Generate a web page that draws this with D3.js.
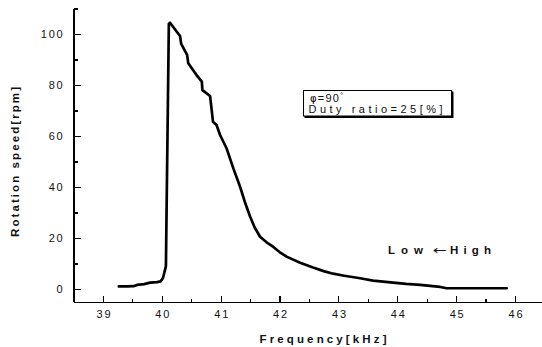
<!DOCTYPE html>
<meta charset="utf-8">
<head>
  <title>Rotation speed vs frequency</title>
</head>

<style>
body {
  margin: 0;
  background: #fff;
}
svg text {
  font-family: "Liberation Sans", Arial, sans-serif;
  fill: #111;
}
.axis path, .axis line {
  stroke: #000;
  stroke-width: 1.2;
  shape-rendering: crispEdges;
}
.axis text {
  font-size: 11px;
  letter-spacing: 1.8px;
}
.label {
  font-size: 11.5px;
  font-weight: bold;
}
</style>

<body>
  <div id="chart"></div>

  <script src="https://cdnjs.cloudflare.com/ajax/libs/d3/7.8.5/d3.min.js"></script>
  <script>
  // Measured curve: frequency in kHz, speed in rpm
  var freq = [39.27, 39.40, 39.52, 39.58, 39.70, 39.80, 39.92, 39.98, 40.02, 40.06,
              40.07, 40.12, 40.14, 40.31, 40.33, 40.43, 40.45, 40.59, 40.68, 40.69,
              40.82, 40.87, 40.93, 40.99, 41.10, 41.22, 41.33, 41.42, 41.50, 41.58,
              41.67, 41.78, 41.89, 42.00, 42.12, 42.35, 42.57, 42.75, 42.91, 43.10,
              43.37, 43.59, 43.93, 44.15, 44.39, 44.60, 44.73, 44.84, 45.86];
  var speed = [1.0, 1.0, 1.1, 1.6, 1.9, 2.5, 2.7, 3.0, 4.3, 8.0,
               9.0, 104.0, 104.4, 99.2, 96.1, 91.8, 88.5, 83.9, 81.3, 78.0,
               75.7, 65.6, 64.3, 60.4, 55.2, 47.0, 40.1, 33.5, 28.4, 24.0,
               20.5, 18.3, 16.6, 14.5, 12.7, 10.3, 8.4, 7.0, 6.0, 5.2,
               4.2, 3.3, 2.5, 2.0, 1.6, 1.1, 0.8, 0.3, 0.3];

  var xTicks = [39, 40, 41, 42, 43, 44, 45, 46];
  var xMinor = [38.5, 39.5, 40.5, 41.5, 42.5, 43.5, 44.5, 45.5];
  var yTicks = [0, 20, 40, 60, 80, 100];
  var yMinor = [10, 30, 50, 70, 90, 110];

  var width = 542, height = 347;

  var svg = d3.select("#chart")
      .append("svg")
      .attr("width", width)
      .attr("height", height);

  var x = d3.scaleLinear().domain([38.5, 46.5]).range([73.5, 544.4]);
  var y = d3.scaleLinear().domain([-5, 110]).range([301.75, 8.5]);

  // x axis, ticks point up into the plot
  svg.append("g")
      .attr("class", "axis")
      .attr("transform", "translate(0," + y(-5) + ")")
      .call(d3.axisBottom(x).tickValues(xTicks).tickSize(-6).tickSizeOuter(0).tickPadding(8)
            .tickFormat(d3.format("d")))
      .selectAll("text").attr("dx", "1px");

  svg.append("g")
      .attr("class", "axis")
      .attr("transform", "translate(0," + y(-5) + ")")
      .call(d3.axisBottom(x).tickValues(xMinor).tickSize(-3).tickFormat(""))
      .select(".domain").remove();

  // y axis, ticks point right into the plot
  svg.append("g")
      .attr("class", "axis")
      .attr("transform", "translate(" + x(38.5) + ",0)")
      .call(d3.axisLeft(y).tickValues(yTicks).tickSize(-7).tickSizeOuter(0).tickPadding(9)
            .tickFormat(d3.format("d")));

  svg.append("g")
      .attr("class", "axis")
      .attr("transform", "translate(" + x(38.5) + ",0)")
      .call(d3.axisLeft(y).tickValues(yMinor).tickSize(-4).tickFormat(""))
      .select(".domain").remove();

  // curve
  var line = d3.line()
      .x(function(d, i) { return x(freq[i]); })
      .y(function(d) { return y(d); });

  svg.append("path")
      .datum(speed)
      .attr("d", line)
      .attr("fill", "none")
      .attr("stroke", "#000")
      .attr("stroke-width", 2.7)
      .attr("stroke-linejoin", "round")
      .attr("stroke-linecap", "round");

  // axis titles
  svg.append("text")
      .attr("class", "label")
      .attr("x", 323)
      .attr("y", 343)
      .attr("text-anchor", "middle")
      .attr("textLength", 127)
      .attr("lengthAdjust", "spacing")
      .text("Frequency[kHz]");

  svg.append("text")
      .attr("class", "label")
      .attr("transform", "translate(19,162) rotate(-90)")
      .attr("text-anchor", "middle")
      .attr("textLength", 150)
      .attr("lengthAdjust", "spacing")
      .text("Rotation speed[rpm]");

  // annotation: Low <- High
  svg.append("text")
      .attr("class", "label")
      .attr("x", 388)
      .attr("y", 254)
      .attr("font-size", "12px")
      .attr("textLength", 35)
      .attr("lengthAdjust", "spacing")
      .text("Low");
  svg.append("text")
      .attr("x", 433)
      .attr("y", 254)
      .style("font-family", "'DejaVu Sans', sans-serif")
      .attr("font-size", "12px")
      .attr("textLength", 14)
      .attr("lengthAdjust", "spacingAndGlyphs")
      .text("\u2190");
  svg.append("text")
      .attr("class", "label")
      .attr("x", 450)
      .attr("y", 254)
      .attr("font-size", "12px")
      .attr("textLength", 41)
      .attr("lengthAdjust", "spacing")
      .text("High");

  // legend box with shadow
  var box = svg.append("g");
  box.append("rect")
      .attr("x", 304.5).attr("y", 91.5)
      .attr("width", 149).attr("height", 26.5)
      .attr("fill", "#000");
  box.append("rect")
      .attr("x", 303.5).attr("y", 90.5)
      .attr("width", 148).attr("height", 25.5)
      .attr("fill", "#fff")
      .attr("stroke", "#000")
      .attr("stroke-width", 1);

  var t1 = box.append("text")
      .attr("x", 310)
      .attr("y", 102)
      .attr("font-size", "11px")
      .attr("letter-spacing", "1.2px");
  t1.append("tspan")
      .style("font-family", "'DejaVu Sans', sans-serif")
      .style("fill", "#000")
      .attr("font-size", "10px")
      .text("\u03c6");
  t1.append("tspan").text("=90");
  t1.append("tspan").attr("font-size", "8px").attr("dy", "-4").text("\u00b0");

  box.append("text")
      .attr("x", 308.5)
      .attr("y", 112.5)
      .attr("font-size", "11px")
      .attr("textLength", 134)
      .attr("lengthAdjust", "spacing")
      .text("Duty ratio=25[%]");
  </script>
</body>
</html>
